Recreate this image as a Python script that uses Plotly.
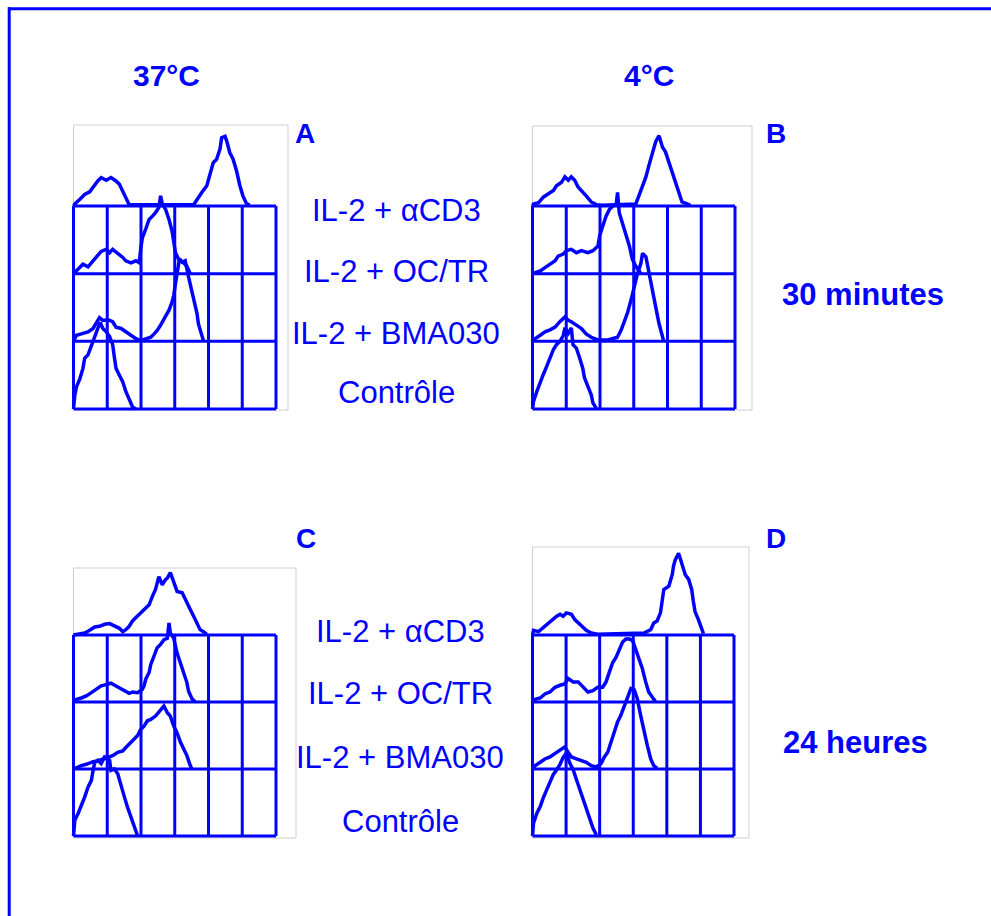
import plotly.graph_objects as go

W, H = 991, 916
BLUE = "#0000FF"

# ---------------- data (x in grid columns 0..6, y = height in row units) -------------
# Panel A : 37°C, 30 minutes
A_acd3_x = [0.00, 0.04, 0.19, 0.33, 0.48, 0.63, 0.72, 0.82, 0.97, 1.11, 1.26, 1.36, 1.46, 1.55, 1.65, 3.56, 3.66, 3.80, 3.95, 4.05, 4.14, 4.24, 4.34, 4.39, 4.49, 4.54, 4.63, 4.73, 4.83, 4.93, 5.02, 5.12, 5.22]
A_acd3_y = [0.00, 0.03, 0.10, 0.17, 0.21, 0.32, 0.37, 0.42, 0.38, 0.42, 0.37, 0.32, 0.22, 0.12, 0.02, 0.02, 0.10, 0.20, 0.30, 0.47, 0.64, 0.69, 0.84, 1.01, 1.03, 0.96, 0.79, 0.69, 0.52, 0.30, 0.15, 0.04, 0.01]
A_octr_x = [0.00, 0.09, 0.19, 0.28, 0.43, 0.53, 0.63, 0.72, 0.82, 0.97, 1.07, 1.16, 1.26, 1.36, 1.46, 1.55, 1.70, 1.85, 1.95, 1.99, 2.04, 2.14, 2.24, 2.34, 2.43, 2.53, 2.58, 2.63, 2.73, 2.83, 2.92, 3.02, 3.12, 3.26, 3.36, 3.46]
A_octr_y = [0.00, 0.04, 0.09, 0.14, 0.10, 0.16, 0.21, 0.26, 0.33, 0.36, 0.31, 0.36, 0.32, 0.29, 0.24, 0.19, 0.16, 0.19, 0.16, 0.36, 0.53, 0.66, 0.80, 0.85, 0.90, 0.98, 1.15, 1.03, 0.95, 0.80, 0.63, 0.31, 0.21, 0.16, 0.11, 0.00]
A_bma_x = [0.00, 0.09, 0.23, 0.43, 0.58, 0.67, 0.77, 0.87, 1.02, 1.16, 1.26, 1.41, 1.55, 1.70, 1.85, 1.99, 2.14, 2.29, 2.39, 2.48, 2.58, 2.73, 2.83, 2.92, 2.97, 3.02, 3.07, 3.14, 3.22, 3.31, 3.41, 3.51, 3.56, 3.66, 3.70, 3.80, 3.85]
A_bma_y = [0.00, 0.09, 0.11, 0.14, 0.19, 0.26, 0.35, 0.31, 0.32, 0.29, 0.21, 0.19, 0.14, 0.09, 0.04, 0.01, 0.04, 0.06, 0.11, 0.16, 0.24, 0.36, 0.46, 0.58, 0.68, 0.85, 1.00, 1.22, 1.17, 1.19, 0.95, 0.75, 0.61, 0.41, 0.26, 0.09, 0.01]
A_ctrl_x = [0.00, 0.04, 0.09, 0.19, 0.28, 0.33, 0.43, 0.53, 0.63, 0.72, 0.79, 0.87, 0.97, 1.07, 1.16, 1.21, 1.26, 1.36, 1.46, 1.55, 1.65, 1.75, 1.85]
A_ctrl_y = [0.00, 0.21, 0.33, 0.45, 0.60, 0.75, 0.80, 0.95, 1.07, 1.19, 1.28, 1.19, 1.14, 1.07, 0.95, 0.77, 0.60, 0.50, 0.40, 0.26, 0.13, 0.03, 0.00]

# Panel B : 4°C, 30 minutes
B_acd3_x = [0.00, 0.03, 0.18, 0.32, 0.47, 0.62, 0.71, 0.86, 0.96, 1.06, 1.15, 1.25, 1.35, 1.45, 1.59, 1.74, 1.89, 2.04, 2.82, 3.06, 3.16, 3.26, 3.36, 3.45, 3.55, 3.65, 3.75, 3.85, 3.94, 4.04, 4.14, 4.24, 4.34, 4.43, 4.58, 4.68]
B_acd3_y = [0.00, 0.03, 0.05, 0.13, 0.18, 0.23, 0.30, 0.35, 0.43, 0.38, 0.43, 0.38, 0.28, 0.23, 0.15, 0.06, 0.02, 0.01, 0.02, 0.03, 0.16, 0.28, 0.43, 0.60, 0.80, 0.95, 1.04, 0.87, 0.80, 0.65, 0.48, 0.31, 0.16, 0.06, 0.03, 0.01]
B_octr_x = [0.00, 0.23, 0.37, 0.52, 0.67, 0.76, 0.91, 1.01, 1.15, 1.30, 1.45, 1.64, 1.79, 1.94, 1.99, 2.08, 2.18, 2.28, 2.38, 2.48, 2.52, 2.57, 2.67, 2.77, 2.87, 2.96, 3.06, 3.16, 3.21]
B_octr_y = [0.00, 0.04, 0.09, 0.14, 0.19, 0.26, 0.29, 0.34, 0.36, 0.31, 0.34, 0.31, 0.34, 0.41, 0.56, 0.70, 0.85, 0.95, 1.00, 1.02, 1.20, 0.90, 0.75, 0.60, 0.41, 0.21, 0.11, 0.04, 0.00]
B_bma_x = [0.00, 0.08, 0.23, 0.37, 0.52, 0.67, 0.81, 0.96, 1.06, 1.15, 1.30, 1.45, 1.59, 1.74, 1.94, 2.23, 2.52, 2.62, 2.72, 2.82, 2.92, 3.01, 3.11, 3.21, 3.26, 3.36, 3.45, 3.55, 3.65, 3.75, 3.85, 3.89]
B_bma_y = [0.00, 0.04, 0.09, 0.14, 0.17, 0.21, 0.29, 0.36, 0.31, 0.29, 0.24, 0.19, 0.11, 0.06, 0.02, 0.02, 0.06, 0.16, 0.29, 0.43, 0.61, 0.80, 1.00, 1.15, 1.30, 1.25, 1.00, 0.75, 0.51, 0.26, 0.09, 0.00]
B_ctrl_x = [0.00, 0.03, 0.13, 0.23, 0.32, 0.42, 0.52, 0.62, 0.71, 0.81, 0.91, 0.96, 1.06, 1.15, 1.20, 1.30, 1.40, 1.49, 1.54, 1.64, 1.74, 1.79, 1.89]
B_ctrl_y = [0.00, 0.11, 0.26, 0.41, 0.51, 0.63, 0.76, 0.88, 0.95, 1.00, 1.08, 1.20, 1.12, 1.20, 0.95, 0.90, 0.75, 0.60, 0.46, 0.33, 0.21, 0.09, 0.01]

# Panel C : 37°C, 24 heures
C_acd3_x = [0.00, 0.33, 0.48, 0.63, 0.77, 0.92, 1.07, 1.21, 1.36, 1.46, 1.55, 1.65, 1.75, 1.85, 1.99, 2.14, 2.24, 2.34, 2.43, 2.53, 2.63, 2.73, 2.78, 2.87, 2.97, 3.07, 3.22, 3.36, 3.46, 3.56, 3.66, 3.75, 3.85, 3.95]
C_acd3_y = [0.00, 0.03, 0.07, 0.12, 0.13, 0.16, 0.17, 0.13, 0.10, 0.05, 0.08, 0.13, 0.21, 0.26, 0.33, 0.40, 0.45, 0.58, 0.68, 0.87, 0.75, 0.83, 0.85, 0.93, 0.80, 0.65, 0.63, 0.50, 0.38, 0.28, 0.18, 0.08, 0.05, 0.01]
C_octr_x = [0.00, 0.09, 0.23, 0.38, 0.53, 0.67, 0.82, 0.97, 1.11, 1.26, 1.41, 1.55, 1.65, 1.75, 1.90, 2.04, 2.09, 2.14, 2.24, 2.29, 2.39, 2.48, 2.58, 2.68, 2.78, 2.83, 2.87, 2.97, 3.07, 3.17, 3.26, 3.36, 3.41, 3.51, 3.61]
C_octr_y = [0.00, 0.04, 0.06, 0.09, 0.14, 0.19, 0.24, 0.26, 0.28, 0.24, 0.20, 0.16, 0.13, 0.15, 0.14, 0.19, 0.24, 0.34, 0.44, 0.56, 0.68, 0.81, 0.86, 0.93, 0.95, 1.18, 1.03, 0.95, 0.73, 0.58, 0.43, 0.29, 0.16, 0.05, 0.00]
C_bma_x = [0.00, 0.09, 0.23, 0.38, 0.58, 0.72, 0.87, 1.02, 1.16, 1.31, 1.46, 1.55, 1.70, 1.80, 1.90, 1.99, 2.09, 2.19, 2.29, 2.43, 2.58, 2.68, 2.78, 2.87, 2.97, 3.07, 3.17, 3.26, 3.36, 3.46, 3.51]
C_bma_y = [0.00, 0.02, 0.05, 0.07, 0.11, 0.12, 0.15, 0.17, 0.20, 0.25, 0.27, 0.32, 0.40, 0.45, 0.50, 0.59, 0.64, 0.72, 0.74, 0.79, 0.87, 0.94, 0.84, 0.79, 0.64, 0.54, 0.40, 0.30, 0.20, 0.05, 0.00]
C_ctrl_x = [0.00, 0.04, 0.14, 0.23, 0.33, 0.43, 0.53, 0.58, 0.63, 0.72, 0.82, 0.92, 1.07, 1.11, 1.21, 1.31, 1.41, 1.51, 1.60, 1.70, 1.80, 1.90]
C_ctrl_y = [0.00, 0.24, 0.34, 0.44, 0.58, 0.73, 0.83, 0.98, 1.10, 1.13, 1.08, 1.18, 1.13, 0.98, 1.00, 0.93, 0.73, 0.58, 0.43, 0.29, 0.14, 0.00]

# Panel D : 4°C, 24 heures
D_acd3_x = [0.00, 0.03, 0.18, 0.32, 0.47, 0.62, 0.72, 0.82, 0.91, 1.01, 1.16, 1.26, 1.36, 1.45, 1.60, 1.75, 1.94, 3.32, 3.52, 3.61, 3.71, 3.81, 3.86, 3.91, 4.06, 4.16, 4.20, 4.25, 4.35, 4.45, 4.55, 4.65, 4.74, 4.79, 4.84, 4.94, 5.04, 5.09]
D_acd3_y = [0.00, 0.07, 0.05, 0.11, 0.18, 0.23, 0.28, 0.31, 0.28, 0.33, 0.31, 0.23, 0.18, 0.13, 0.07, 0.03, 0.01, 0.03, 0.08, 0.18, 0.21, 0.33, 0.53, 0.68, 0.73, 0.90, 1.03, 1.12, 1.22, 1.05, 0.90, 0.83, 0.68, 0.50, 0.35, 0.23, 0.11, 0.02]
D_octr_x = [0.00, 0.08, 0.23, 0.37, 0.52, 0.67, 0.82, 0.96, 1.06, 1.21, 1.36, 1.50, 1.65, 1.80, 1.94, 2.09, 2.19, 2.29, 2.39, 2.49, 2.58, 2.68, 2.78, 2.88, 2.98, 3.07, 3.17, 3.27, 3.37, 3.46, 3.57, 3.66]
D_octr_y = [0.00, 0.04, 0.06, 0.12, 0.15, 0.22, 0.25, 0.27, 0.35, 0.30, 0.30, 0.22, 0.15, 0.17, 0.22, 0.22, 0.30, 0.45, 0.59, 0.67, 0.79, 0.89, 0.94, 0.94, 0.92, 0.79, 0.64, 0.50, 0.30, 0.15, 0.07, 0.01]
D_bma_x = [0.00, 0.08, 0.23, 0.37, 0.52, 0.67, 0.82, 0.96, 1.06, 1.16, 1.31, 1.45, 1.60, 1.75, 1.90, 2.04, 2.14, 2.24, 2.34, 2.44, 2.53, 2.63, 2.73, 2.83, 2.93, 3.03, 3.12, 3.22, 3.32, 3.42, 3.52, 3.61, 3.71]
D_bma_y = [0.00, 0.05, 0.10, 0.15, 0.18, 0.23, 0.28, 0.33, 0.25, 0.18, 0.15, 0.13, 0.10, 0.05, 0.03, 0.08, 0.18, 0.25, 0.40, 0.55, 0.70, 0.80, 0.93, 1.05, 1.20, 1.18, 1.05, 0.80, 0.55, 0.35, 0.15, 0.05, 0.01]
D_ctrl_x = [0.00, 0.03, 0.13, 0.23, 0.32, 0.42, 0.52, 0.62, 0.72, 0.82, 0.91, 1.01, 1.11, 1.21, 1.31, 1.41, 1.51, 1.61, 1.70, 1.80, 1.90]
D_ctrl_y = [0.00, 0.19, 0.34, 0.44, 0.57, 0.69, 0.82, 0.92, 0.99, 1.07, 1.17, 1.24, 1.09, 0.99, 0.84, 0.69, 0.54, 0.39, 0.24, 0.12, 0.02]

row_labels = ["IL-2 + αCD3", "IL-2 + OC/TR", "IL-2 + BMA030", "Contrôle"]
col_titles = ["37°C", "4°C"]
row_titles = ["30 minutes", "24 heures"]
panel_letters = ["A", "B", "C", "D"]

series = {
    "A": [(A_ctrl_x, A_ctrl_y), (A_bma_x, A_bma_y), (A_octr_x, A_octr_y), (A_acd3_x, A_acd3_y)],
    "B": [(B_ctrl_x, B_ctrl_y), (B_bma_x, B_bma_y), (B_octr_x, B_octr_y), (B_acd3_x, B_acd3_y)],
    "C": [(C_ctrl_x, C_ctrl_y), (C_bma_x, C_bma_y), (C_octr_x, C_octr_y), (C_acd3_x, C_acd3_y)],
    "D": [(D_ctrl_x, D_ctrl_y), (D_bma_x, D_bma_y), (D_octr_x, D_octr_y), (D_acd3_x, D_acd3_y)],
}

# ---------------- layout geometry (pixels) ----------------
# gridL, gridR, gridT, gridB, boxR, boxT, boxB
geom = {
    "A": (73.5, 276, 206, 409, 288, 125, 410),
    "B": (532.5, 735, 206, 409, 752, 126, 410),
    "C": (73.5, 276, 635, 836, 296, 568, 838),
    "D": (532.5, 734, 635, 836, 749, 547, 838),
}
PAD = 6

fig = go.Figure()
shapes = []
layout_axes = {}

for i, key in enumerate(["A", "B", "C", "D"]):
    gL, gR, gT, gB, bR, bT, bB = geom[key]
    ux = (gR - gL) / 6.0
    uy = (gB - gT) / 3.0
    xd0, xd1 = gL - PAD, bR + PAD
    yd0, yd1 = bT - PAD, max(gB, bB) + PAD
    xr = [-PAD / ux, (bR + PAD - gL) / ux]
    yr = [-(yd1 - gB) / uy, (gB - yd0) / uy]
    sfx = "" if i == 0 else str(i + 1)
    xa, ya = "x" + sfx, "y" + sfx
    layout_axes["xaxis" + sfx] = dict(domain=[xd0 / W, xd1 / W], range=xr, visible=False,
                                      anchor=ya, fixedrange=True)
    layout_axes["yaxis" + sfx] = dict(domain=[1 - yd1 / H, 1 - yd0 / H], range=yr, visible=False,
                                      anchor=xa, fixedrange=True)
    # grey frame
    shapes.append(dict(type="rect", xref=xa, yref=ya, x0=0, x1=(bR - gL) / ux,
                       y0=(gB - bB) / uy, y1=(gB - bT) / uy,
                       line=dict(color="#cfcfcf", width=1), layer="below"))
    # blue grid
    for k in range(7):
        shapes.append(dict(type="line", xref=xa, yref=ya, x0=k, x1=k, y0=0, y1=3,
                           line=dict(color=BLUE, width=3)))
    for k in range(4):
        shapes.append(dict(type="line", xref=xa, yref=ya, x0=0, x1=6, y0=k, y1=k,
                           line=dict(color=BLUE, width=3)))
    for off, (xs, ys) in enumerate(series[key]):
        fig.add_trace(go.Scatter(x=xs, y=[v + off for v in ys], xaxis=xa, yaxis=ya,
                                 mode="lines", line=dict(color=BLUE, width=3.5),
                                 showlegend=False, hoverinfo="skip"))

# outer blue frame
shapes.append(dict(type="line", xref="paper", yref="paper", x0=8 / W, x1=1, y0=1 - 8.7 / H, y1=1 - 8.7 / H,
                   line=dict(color=BLUE, width=3)))
shapes.append(dict(type="line", xref="paper", yref="paper", x0=9.2 / W, x1=9.2 / W, y0=0, y1=1 - 7.3 / H,
                   line=dict(color=BLUE, width=3)))

FONT = "Liberation Sans, Arial, sans-serif"
ann = []

def txt(s, x, y, size, bold=False):
    ann.append(dict(text=("<b>%s</b>" % s) if bold else s, x=x / W, y=1 - y / H,
                    xref="paper", yref="paper", showarrow=False, xanchor="center", yanchor="middle",
                    font=dict(family=FONT, size=size, color=BLUE)))

txt(col_titles[0], 166, 75, 30, True)
txt(col_titles[1], 649, 75, 30, True)
txt(panel_letters[0], 305, 134, 28, True)
txt(panel_letters[1], 776, 134, 28, True)
txt(panel_letters[2], 306, 538, 28, True)
txt(panel_letters[3], 776, 538, 28, True)
txt(row_titles[0], 863, 294, 31, True)
txt(row_titles[1], 855, 742, 31, True)

for j, (yy) in enumerate([210, 271, 333, 392]):
    txt(row_labels[j], 396, yy, 31)
for j, (yy) in enumerate([631, 693, 757, 821]):
    txt(row_labels[j], 400, yy, 31)

fig.update_layout(width=W, height=H, margin=dict(l=0, r=0, t=0, b=0),
                  paper_bgcolor="white", plot_bgcolor="rgba(0,0,0,0)",
                  shapes=shapes, annotations=ann, **layout_axes)

fig.write_html("out.html")
